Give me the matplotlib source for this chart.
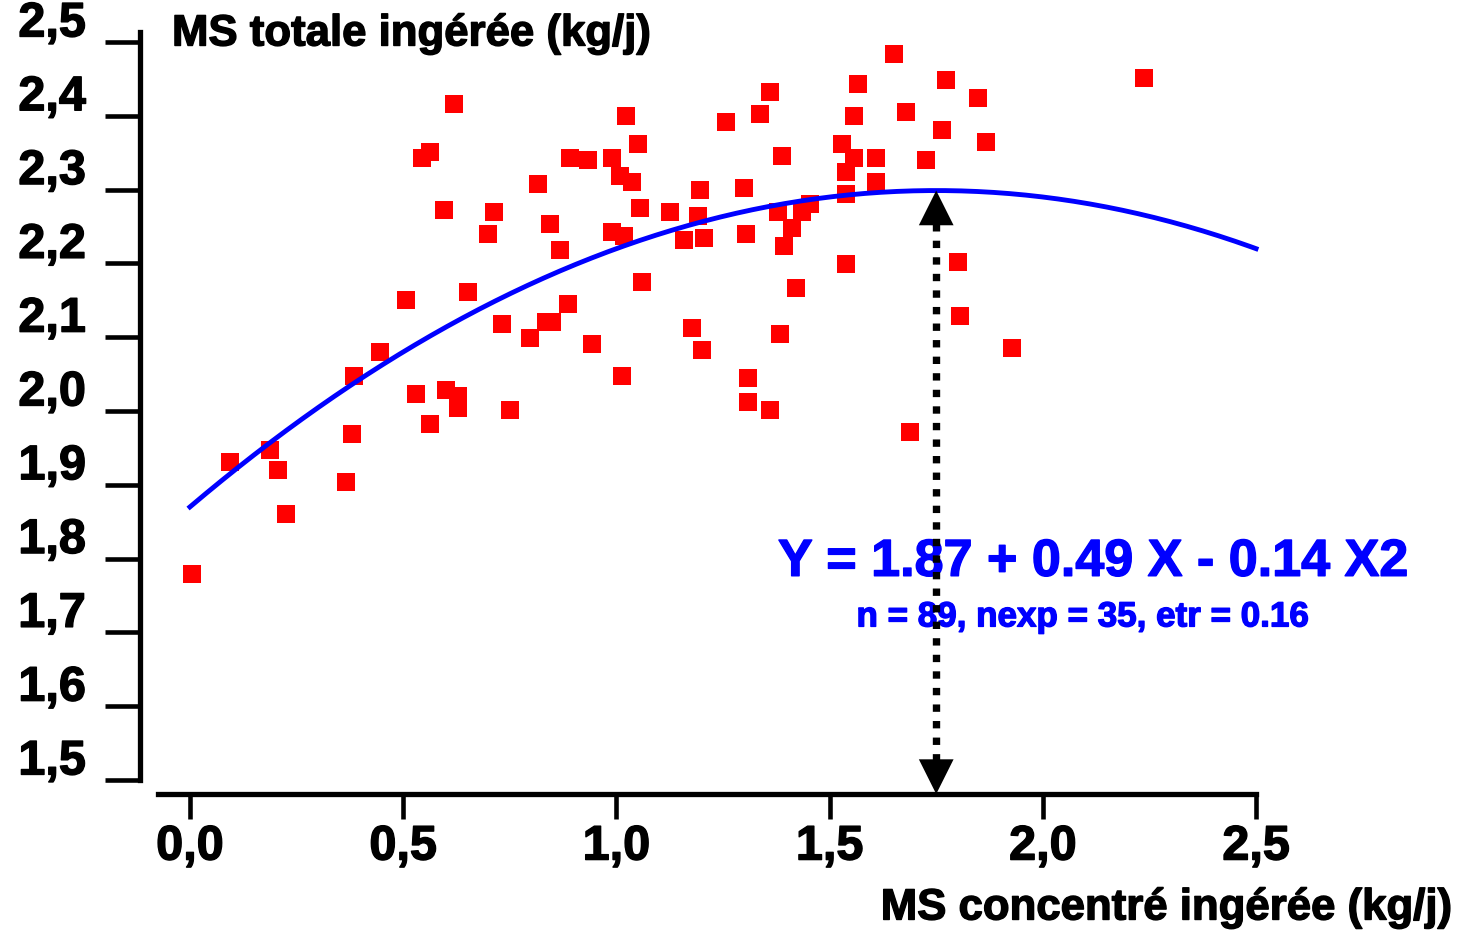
import matplotlib
matplotlib.use("Agg")
import matplotlib.pyplot as plt
import matplotlib.transforms as mtransforms
import matplotlib.patheffects as pe
import numpy as np

plt.rcParams['font.family'] = ['Liberation Sans', 'DejaVu Sans']
plt.rcParams['font.weight'] = 'bold'

# dry matter intake: concentrate (x) vs total (y), kg/day
conc = [0.005, 0.094, 0.188, 0.206, 0.225, 0.366, 0.380, 0.385, 0.446, 0.507,
        0.530, 0.544, 0.563, 0.563, 0.596, 0.600, 0.619, 0.629, 0.629, 0.652,
        0.699, 0.713, 0.732, 0.750, 0.797, 0.816, 0.835, 0.844, 0.849, 0.868,
        0.886, 0.891, 0.933, 0.943, 0.990, 0.990, 1.008, 1.013, 1.018, 1.023,
        1.037, 1.051, 1.055, 1.060, 1.126, 1.159, 1.177, 1.196, 1.191, 1.205,
        1.201, 1.257, 1.299, 1.304, 1.309, 1.309, 1.337, 1.360, 1.360, 1.388,
        1.379, 1.393, 1.384, 1.412, 1.421, 1.435, 1.454, 1.529, 1.538, 1.538,
        1.538, 1.557, 1.557, 1.567, 1.609, 1.609, 1.651, 1.679, 1.689, 1.726,
        1.764, 1.773, 1.801, 1.806, 1.848, 1.867, 1.928, 2.237]
total = [1.779, 1.931, 1.947, 1.920, 1.860, 1.904, 1.969, 2.047, 2.080, 2.150,
         2.023, 2.343, 2.351, 1.982, 2.272, 2.028, 2.416, 2.020, 2.004, 2.161,
         2.240, 2.270, 2.118, 2.001, 2.099, 2.308, 2.121, 2.253, 2.121, 2.218,
         2.145, 2.343, 2.340, 2.091, 2.343, 2.243, 2.318, 2.047, 2.237, 2.400,
         2.310, 2.362, 2.275, 2.175, 2.270, 2.232, 2.112, 2.299, 2.264, 2.234,
         2.083, 2.392, 2.302, 2.240, 2.045, 2.012, 2.402, 2.432, 2.001, 2.346,
         2.270, 2.224, 2.104, 2.248, 2.167, 2.270, 2.280, 2.362, 2.324, 2.294,
         2.199, 2.343, 2.400, 2.443, 2.310, 2.343, 2.484, 2.405, 1.972, 2.340,
         2.381, 2.449, 2.202, 2.129, 2.424, 2.364, 2.085, 2.451]

# quadratic fit Y = a + b X + c X^2
a, b, c = 1.87, 0.49, -0.14
x_opt = 1.75

xticks = [0.0, 0.5, 1.0, 1.5, 2.0, 2.5]
xtick_labels = ['0,0', '0,5', '1,0', '1,5', '2,0', '2,5']
yticks = [1.5, 1.6, 1.7, 1.8, 1.9, 2.0, 2.1, 2.2, 2.3, 2.4, 2.5]
ytick_labels = ['1,5', '1,6', '1,7', '1,8', '1,9', '2,0', '2,1', '2,2', '2,3', '2,4', '2,5']


def heavy(color):
    # thicken the bold glyphs a little
    return [pe.withStroke(linewidth=1.0, foreground=color)]


fig = plt.figure(figsize=(14.66, 9.30), dpi=100)
ax = fig.add_axes([0.0955, 0.1462, 0.7613, 0.8194])
ax.set_xlim(-0.117, 2.5)
ax.set_ylim(1.481, 2.5136)

ax.plot(conc, total, 's', color='#ff0000', markersize=12.7, markeredgewidth=0, zorder=2)

xs = np.linspace(0, 2.5, 200)
ax.plot(xs, a + b * xs + c * xs ** 2, color='#0000ff', lw=3.5, zorder=3, clip_on=False)

# double arrow at the maximum of the curve
y_top = a + b * x_opt + c * x_opt ** 2
y_bot = 1.481
ax.plot([x_opt, x_opt], [y_bot + 0.045, y_top - 0.045], color='black', lw=5.3,
        dashes=(1, 1.25), dash_capstyle='butt', zorder=5, clip_on=False)
ax.annotate('', xy=(x_opt, y_top), xytext=(x_opt, y_bot),
            arrowprops=dict(arrowstyle='<|-|>,head_length=2.5,head_width=1.25',
                            color='black', lw=0, shrinkA=0, shrinkB=0),
            zorder=6, annotation_clip=False)

ax.text(2.118, 1.795, 'Y = 1.87 + 0.49 X - 0.14 X2', color='#0000ff',
        fontsize=37.5, fontweight='bold', ha='center', va='center', zorder=4,
        path_effects=heavy('#0000ff'))
ax.text(2.094, 1.721, 'n = 89, nexp = 35, etr = 0.16', color='#0000ff',
        fontsize=25.2, fontweight='bold', ha='center', va='center', zorder=4,
        path_effects=heavy('#0000ff'))

for side in ['top', 'right']:
    ax.spines[side].set_visible(False)
ax.spines['left'].set_linewidth(3.8)
ax.spines['bottom'].set_linewidth(3.8)
ax.spines['left'].set_bounds(1.5, 2.5136)
ax.spines['bottom'].set_bounds(-0.075, 2.5)

ax.set_xticks(xticks)
ax.set_xticklabels(xtick_labels)
ax.set_yticks(yticks)
ax.set_yticklabels(ytick_labels)
ax.tick_params(axis='y', direction='out', length=25, width=3.3, pad=14,
               labelsize=35, colors='black')
ax.tick_params(axis='x', direction='out', length=18, width=3.3, pad=4,
               labelsize=35, colors='black')
for lab in ax.get_xticklabels() + ax.get_yticklabels():
    lab.set_fontweight('bold')
    lab.set_path_effects(heavy('black'))
off = mtransforms.ScaledTranslation(0, 4 / 72, fig.dpi_scale_trans)
for lab in ax.get_yticklabels():
    lab.set_verticalalignment('baseline')
    lab.set_transform(lab.get_transform() + off)

fig.text(172 / 1466, 1 - 34 / 930, 'MS totale ingérée (kg/j)', fontsize=31.5,
         fontweight='bold', ha='left', va='center', path_effects=heavy('black'))
fig.text(1452 / 1466, 1 - 908 / 930, 'MS concentré ingérée (kg/j)', fontsize=31.5,
         fontweight='bold', ha='right', va='center', path_effects=heavy('black'))

fig.savefig('out.png', dpi=100)
